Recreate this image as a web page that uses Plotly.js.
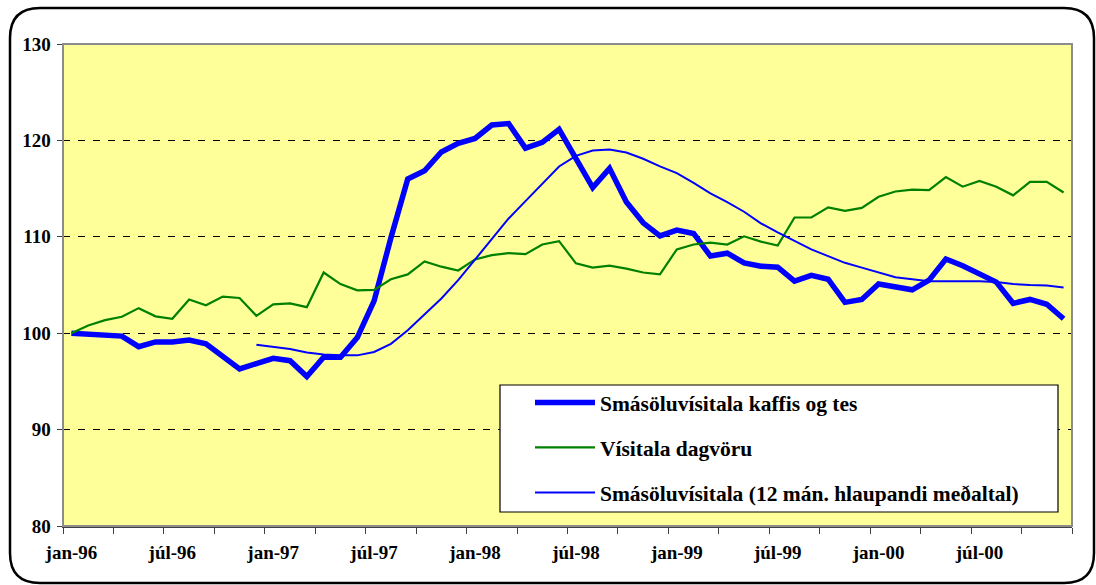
<!DOCTYPE html>
<html><head><meta charset="utf-8">
<script src="https://cdn.plot.ly/plotly-3.0.1.min.js"></script>
<style>html,body{margin:0;padding:0;background:#fff;}#chart{width:1096px;height:585px;}</style>
</head><body><div id="chart"></div>
<script>
const monthNames = ['jan','feb','mar','apr','maí','jún','júl','ágú','sep','okt','nóv','des'];
const years = ['96','97','98','99','00'];
const categories = [];
years.forEach(y => monthNames.forEach(m => categories.push(m + '-' + y)));

const tickLabels = ['jan-96','júl-96','jan-97','júl-97','jan-98','júl-98','jan-99','júl-99','jan-00','júl-00'];

const seriesNames = [
  'Smásöluvísitala kaffis og tes',
  'Vísitala dagvöru',
  'Smásöluvísitala (12 mán. hlaupandi meðaltal)'
];

const coffeeTea = [100.0, 99.9, 99.8, 99.7, 98.6, 99.1, 99.1, 99.3, 98.9, 97.6, 96.3, 96.85,
  97.4, 97.15, 95.5, 97.5, 97.5, 99.55, 103.35, 109.9, 116.0, 116.85, 118.8, 119.7,
  120.2, 121.6, 121.75, 119.2, 119.8, 121.15, 118.0, 115.1, 117.1, 113.6, 111.45, 110.1,
  110.7, 110.35, 108.0, 108.3, 107.3, 106.95, 106.85, 105.4, 106.0, 105.6, 103.2, 103.5,
  105.1, 104.8, 104.5, 105.5, 107.7, 107.0, 106.2, 105.3, 103.1, 103.5, 103.0, 101.5];

const foodIndex = [100.0, 100.8, 101.35, 101.7, 102.6, 101.75, 101.5, 103.5, 102.9, 103.8, 103.65, 101.8,
  103.0, 103.1, 102.7, 106.3, 105.1, 104.45, 104.5, 105.6, 106.1, 107.45, 106.9, 106.5,
  107.65, 108.1, 108.3, 108.2, 109.2, 109.55, 107.25, 106.8, 107.0, 106.7, 106.3, 106.1,
  108.7, 109.2, 109.4, 109.2, 110.05, 109.5, 109.1, 112.0, 112.0, 113.05, 112.7, 113.0,
  114.15, 114.7, 114.9, 114.85, 116.2, 115.2, 115.8, 115.2, 114.3, 115.7, 115.7, 114.6];

const movingAvg = [null, null, null, null, null, null, null, null, null, null, null, 98.8,
  98.6, 98.35, 98.0, 97.8, 97.7, 97.7, 98.05, 98.9, 100.3, 101.9, 103.6, 105.5,
  107.6, 109.7, 111.9, 113.7, 115.5, 117.3, 118.4, 118.95, 119.05, 118.75, 118.1, 117.3,
  116.6, 115.6, 114.5, 113.6, 112.6, 111.4, 110.45, 109.6, 108.7, 108.0, 107.3, 106.8,
  106.3, 105.8, 105.6, 105.4, 105.4, 105.4, 105.4, 105.3, 105.1, 105.0, 104.95, 104.75];

const x = categories.map((_, i) => i);
const tickVals = tickLabels.map(t => categories.indexOf(t));

const FONT = '"Liberation Serif", "Times New Roman", serif';

const traces = [
  {x: x, y: coffeeTea, name: seriesNames[0], type: 'scatter', mode: 'lines',
   line: {color: '#0000FF', width: 5.5}, legendgroup: 'a', hoverinfo: 'skip'},
  {x: x, y: foodIndex, name: seriesNames[1], type: 'scatter', mode: 'lines',
   line: {color: '#008000', width: 2.2}, legendgroup: 'b', hoverinfo: 'skip'},
  {x: x, y: movingAvg, name: seriesNames[2], type: 'scatter', mode: 'lines',
   line: {color: '#0000FF', width: 2}, legendgroup: 'c', hoverinfo: 'skip', connectgaps: false}
];

// pixel -> paper helpers (layout geometry)
const M = {l: 63, r: 24, t: 44, b: 59};
const W = 1096 - M.l - M.r, H = 585 - M.t - M.b;
const px = v => (v - M.l) / W;
const py = v => (585 - M.b - v) / H;

function roundRect(x0, y0, x1, y1, r) {
  const X0 = px(x0), X1 = px(x1), Y0 = py(y0), Y1 = py(y1);
  const rx = r / W, ry = r / H;
  return `M${X0 + rx},${Y0} L${X1 - rx},${Y0} Q${X1},${Y0} ${X1},${Y0 - ry} ` +
         `L${X1},${Y1 + ry} Q${X1},${Y1} ${X1 - rx},${Y1} L${X0 + rx},${Y1} ` +
         `Q${X0},${Y1} ${X0},${Y1 + ry} L${X0},${Y0 - ry} Q${X0},${Y0} ${X0 + rx},${Y0} Z`;
}

const layout = {
  width: 1096, height: 585,
  margin: M,
  paper_bgcolor: '#FFFFFF',
  plot_bgcolor: '#FFFF99',
  showlegend: true,
  hovermode: false,
  xaxis: {
    range: [-0.5, categories.length - 0.5],
    tickmode: 'array', tickvals: tickVals, ticktext: tickLabels,
    ticks: '', showgrid: false, zeroline: false,
    showline: true, linecolor: '#404040', linewidth: 1.5,
    tickfont: {family: FONT, size: 19, color: '#000', weight: 'bold'},
    ticklabelstandoff: 9,
    minor: {tickmode: 'linear', tick0: -0.5, dtick: 3, ticks: 'outside', ticklen: 6,
            tickcolor: '#404040', tickwidth: 1, showgrid: false}
  },
  yaxis: {
    range: [80, 130], tickmode: 'linear', tick0: 80, dtick: 10,
    ticks: 'outside', ticklen: 5, tickcolor: '#404040', tickwidth: 1,
    showgrid: true, gridcolor: '#000000', gridwidth: 1, griddash: '7px,8px',
    zeroline: false, showline: true, linecolor: '#606060', linewidth: 1.5,
    tickfont: {family: FONT, size: 19, color: '#000', weight: 'bold'},
    ticklabelstandoff: 2
  },
  legend: {
    x: px(530), xanchor: 'left', y: py(382), yanchor: 'top',
    bgcolor: 'rgba(0,0,0,0)', borderwidth: 0,
    font: {family: FONT, size: 21.5, color: '#000', weight: 'bold'},
    itemwidth: 60, tracegroupgap: 14, traceorder: 'grouped'
  },
  shapes: [
    {type: 'rect', xref: 'paper', yref: 'paper', x0: 0, x1: 1, y0: 0, y1: 1,
     line: {color: '#8C8C8C', width: 2}, fillcolor: 'rgba(0,0,0,0)', layer: 'above'},
    {type: 'rect', xref: 'paper', yref: 'paper', x0: px(500), x1: px(1058), y0: py(512), y1: py(385),
     line: {color: '#000', width: 1.2}, fillcolor: '#FFFFFF', layer: 'above'},
    {type: 'path', xref: 'paper', yref: 'paper', path: roundRect(10, 8, 1094, 583, 30),
     line: {color: '#000', width: 2.5}, fillcolor: 'rgba(0,0,0,0)', layer: 'above'}
  ]
};

Plotly.newPlot('chart', traces, layout, {staticPlot: true, displayModeBar: false});
</script>
</body></html>
